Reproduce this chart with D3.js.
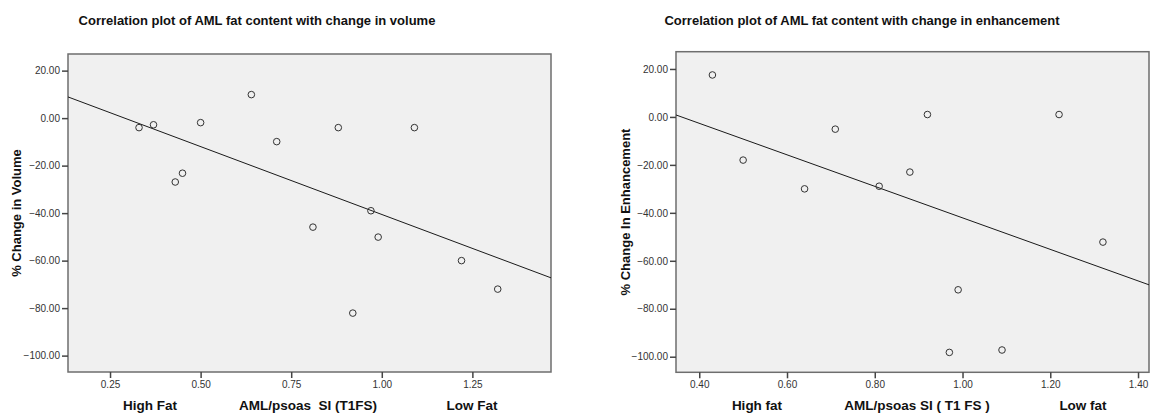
<!DOCTYPE html>
<html>
<head>
<meta charset="utf-8">
<script src="https://cdn.jsdelivr.net/npm/d3@7.9.0/dist/d3.min.js"></script>
<style>
  html, body { margin: 0; padding: 0; background: #fff; }
  svg { display: block; font-family: "Liberation Sans", Arial, sans-serif; }
  text { white-space: pre; }
</style>
</head>
<body>
<svg id="chart" width="1150" height="415"></svg>
<script>
// volume plot data
const volX = [0.33, 0.37, 0.50, 0.64, 0.71, 0.43, 0.45, 0.88, 1.09, 0.97, 0.81, 0.99, 1.22, 1.32, 0.92];
const volY = [-4.0, -2.8, -1.9, 9.9, -9.9, -26.9, -23.2, -4.0, -4.0, -39.0, -45.9, -50.1, -60.0, -72.0, -82.1];

// enhancement plot data
const enhX = [0.43, 0.50, 0.64, 0.71, 0.81, 0.88, 0.92, 1.22, 1.32, 0.99, 0.97, 1.09];
const enhY = [17.5, -18.0, -30.0, -5.1, -28.9, -23.0, 1.0, 1.0, -52.2, -72.1, -98.2, -97.2];

// tick values
const yTicks = [20, 0, -20, -40, -60, -80, -100];
const volXTicks = [0.25, 0.50, 0.75, 1.00, 1.25];
const enhXTicks = [0.40, 0.60, 0.80, 1.00, 1.20, 1.40];

const panels = [
  {
    title: 'Correlation plot of AML fat content with change in volume',
    titleX: 257,
    yLabel: '% Change in Volume', yLabelX: 21,
    xs: volX, ys: volY, xTicks: volXTicks,
    xDomain: [0.134, 1.467], xRange: [68, 551],
    yDomain: [27, -106.9], yRange: [54, 372],
    bottomLabels: [
      { text: 'High Fat', x: 150 },
      { text: 'AML/psoas  SI (T1FS)', x: 308 },
      { text: 'Low Fat', x: 472 }
    ]
  },
  {
    title: 'Correlation plot of AML fat content with change in enhancement',
    titleX: 862,
    yLabel: '% Change In Enhancement', yLabelX: 630,
    xs: enhX, ys: enhY, xTicks: enhXTicks,
    xDomain: [0.347, 1.425], xRange: [676, 1149],
    yDomain: [27.2, -106.5], yRange: [51.7, 372.3],
    bottomLabels: [
      { text: 'High fat', x: 757 },
      { text: 'AML/psoas SI ( T1 FS )', x: 917 },
      { text: 'Low fat', x: 1083 }
    ]
  }
];

const svg = d3.select('#chart');
const fmt = d3.format('.2f');

panels.forEach((p) => {
  const x = d3.scaleLinear().domain(p.xDomain).range(p.xRange);
  const y = d3.scaleLinear().domain(p.yDomain).range(p.yRange);
  const g = svg.append('g');

  // plot background
  g.append('rect')
    .attr('x', p.xRange[0])
    .attr('y', p.yRange[0])
    .attr('width', p.xRange[1] - p.xRange[0])
    .attr('height', p.yRange[1] - p.yRange[0])
    .attr('fill', '#f0f0f0')
    .attr('stroke', '#6e6e6e')
    .attr('stroke-width', 1.5);

  // fit line (least squares)
  const data = p.xs.map((v, i) => ({ x: v, y: p.ys[i] }));
  const mx = d3.mean(data, (d) => d.x);
  const my = d3.mean(data, (d) => d.y);
  const slope = d3.sum(data, (d) => (d.x - mx) * (d.y - my)) /
                d3.sum(data, (d) => (d.x - mx) ** 2);
  const fit = (v) => my + slope * (v - mx);
  g.append('line')
    .attr('x1', x(p.xDomain[0])).attr('y1', y(fit(p.xDomain[0])))
    .attr('x2', x(p.xDomain[1])).attr('y2', y(fit(p.xDomain[1])))
    .attr('stroke', '#1a1a1a')
    .attr('stroke-width', 1);

  // points
  g.selectAll('circle')
    .data(data)
    .join('circle')
    .attr('cx', (d) => x(d.x))
    .attr('cy', (d) => y(d.y))
    .attr('r', 3.3)
    .attr('fill', 'none')
    .attr('stroke', '#333')
    .attr('stroke-width', 1);

  // axes
  const yAxis = g.append('g')
    .attr('transform', `translate(${p.xRange[0]},0)`)
    .call(d3.axisLeft(y).tickValues(yTicks).tickFormat(fmt).tickSize(6).tickPadding(2));
  const xAxis = g.append('g')
    .attr('transform', `translate(0,${p.yRange[1]})`)
    .call(d3.axisBottom(x).tickValues(p.xTicks).tickFormat(fmt).tickSize(6).tickPadding(3));

  [yAxis, xAxis].forEach((a) => {
    a.select('.domain').remove();
    a.selectAll('.tick line').attr('stroke', '#444').attr('stroke-width', 1.5);
    a.selectAll('.tick text')
      .attr('fill', '#333')
      .style('font-size', '10px')
      .style('font-family', '"Liberation Sans", Arial, sans-serif');
  });

  // title
  svg.append('text')
    .attr('x', p.titleX)
    .attr('y', 25)
    .attr('text-anchor', 'middle')
    .style('font-size', '13px')
    .style('font-weight', 'bold')
    .attr('fill', '#111')
    .text(p.title);

  // y label
  const yMid = (p.yRange[0] + p.yRange[1]) / 2;
  svg.append('text')
    .attr('transform', `translate(${p.yLabelX},${yMid}) rotate(-90)`)
    .attr('text-anchor', 'middle')
    .style('font-size', '13px')
    .style('font-weight', 'bold')
    .attr('fill', '#111')
    .text(p.yLabel);

  // bottom labels
  p.bottomLabels.forEach((b) => {
    svg.append('text')
      .attr('x', b.x)
      .attr('y', 410)
      .attr('text-anchor', 'middle')
      .style('font-size', '13.5px')
      .style('font-weight', 'bold')
      .attr('fill', '#111')
      .text(b.text);
  });
});
</script>
</body>
</html>
